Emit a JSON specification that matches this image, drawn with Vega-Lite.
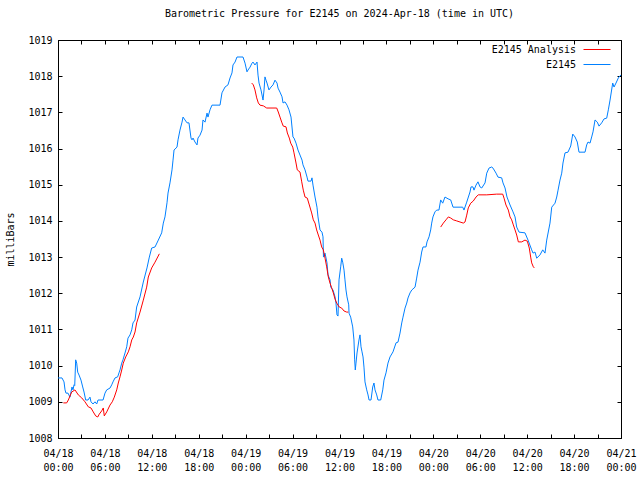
{
  "$schema": "https://vega.github.io/schema/vega-lite/v6.json",
  "width": 563,
  "height": 398,
  "autosize": {"type": "none"},
  "padding": {"left": 58, "top": 40, "right": 19, "bottom": 42},
  "background": "white",
  "config": {
    "font": "DejaVu Sans Mono",
    "view": {"stroke": "black", "strokeWidth": 1},
    "axis": {"domainColor": "black", "tickColor": "black", "labelColor": "black", "titleColor": "black", "labelFont": "DejaVu Sans Mono", "titleFont": "DejaVu Sans Mono", "labelFontSize": 10, "titleFontSize": 10, "titleFontWeight": "normal", "grid": false}
  },
  "title": {"text": "Barometric Pressure for E2145 on 2024-Apr-18 (time in UTC)", "font": "DejaVu Sans Mono", "fontSize": 10, "fontWeight": "normal", "color": "black", "anchor": "middle", "offset": 16},
  "data": {"values": [
    {"series":"E2145","seg":"b","hour":0,"mb":1009.66},{"series":"E2145","seg":"b","hour":0.51,"mb":1009.66},{"series":"E2145","seg":"b","hour":0.77,"mb":1009.55},{"series":"E2145","seg":"b","hour":0.9,"mb":1009.33},{"series":"E2145","seg":"b","hour":1.02,"mb":1009.24},{"series":"E2145","seg":"b","hour":1.28,"mb":1009.24},{"series":"E2145","seg":"b","hour":1.53,"mb":1009.13},{"series":"E2145","seg":"b","hour":1.79,"mb":1009.41},{"series":"E2145","seg":"b","hour":1.92,"mb":1009.33},{"series":"E2145","seg":"b","hour":2.05,"mb":1009.47},{"series":"E2145","seg":"b","hour":2.14,"mb":1009.45},{"series":"E2145","seg":"b","hour":2.26,"mb":1010.16},{"series":"E2145","seg":"b","hour":2.39,"mb":1010.07},{"series":"E2145","seg":"b","hour":2.52,"mb":1009.82},{"series":"E2145","seg":"b","hour":2.69,"mb":1009.74},{"series":"E2145","seg":"b","hour":2.94,"mb":1009.6},{"series":"E2145","seg":"b","hour":3.16,"mb":1009.41},{"series":"E2145","seg":"b","hour":3.33,"mb":1009.27},{"series":"E2145","seg":"b","hour":3.54,"mb":1009.05},{"series":"E2145","seg":"b","hour":3.84,"mb":1009.05},{"series":"E2145","seg":"b","hour":4.09,"mb":1009.13},{"series":"E2145","seg":"b","hour":4.22,"mb":1009.0},{"series":"E2145","seg":"b","hour":4.48,"mb":1008.94},{"series":"E2145","seg":"b","hour":4.73,"mb":1009.0},{"series":"E2145","seg":"b","hour":4.95,"mb":1008.94},{"series":"E2145","seg":"b","hour":5.12,"mb":1009.05},{"series":"E2145","seg":"b","hour":5.76,"mb":1009.05},{"series":"E2145","seg":"b","hour":6.01,"mb":1009.24},{"series":"E2145","seg":"b","hour":6.23,"mb":1009.33},{"series":"E2145","seg":"b","hour":6.65,"mb":1009.38},{"series":"E2145","seg":"b","hour":6.87,"mb":1009.47},{"series":"E2145","seg":"b","hour":7.03,"mb":1009.55},{"series":"E2145","seg":"b","hour":7.29,"mb":1009.66},{"series":"E2145","seg":"b","hour":7.63,"mb":1009.69},{"series":"E2145","seg":"b","hour":7.8,"mb":1009.8},{"series":"E2145","seg":"b","hour":7.93,"mb":1009.88},{"series":"E2145","seg":"b","hour":8.15,"mb":1010.07},{"series":"E2145","seg":"b","hour":8.31,"mb":1010.16},{"series":"E2145","seg":"b","hour":8.57,"mb":1010.35},{"series":"E2145","seg":"b","hour":8.79,"mb":1010.52},{"series":"E2145","seg":"b","hour":8.95,"mb":1010.76},{"series":"E2145","seg":"b","hour":9.21,"mb":1010.85},{"series":"E2145","seg":"b","hour":9.43,"mb":1010.99},{"series":"E2145","seg":"b","hour":9.59,"mb":1011.18},{"series":"E2145","seg":"b","hour":9.85,"mb":1011.26},{"series":"E2145","seg":"b","hour":10.06,"mb":1011.62},{"series":"E2145","seg":"b","hour":10.49,"mb":1011.9},{"series":"E2145","seg":"b","hour":10.91,"mb":1012.31},{"series":"E2145","seg":"b","hour":11.38,"mb":1012.7},{"series":"E2145","seg":"b","hour":11.68,"mb":1013.0},{"series":"E2145","seg":"b","hour":11.98,"mb":1013.25},{"series":"E2145","seg":"b","hour":12.41,"mb":1013.28},{"series":"E2145","seg":"b","hour":12.83,"mb":1013.47},{"series":"E2145","seg":"b","hour":13.26,"mb":1013.67},{"series":"E2145","seg":"b","hour":13.47,"mb":1013.94},{"series":"E2145","seg":"b","hour":13.68,"mb":1014.11},{"series":"E2145","seg":"b","hour":13.94,"mb":1014.5},{"series":"E2145","seg":"b","hour":14.07,"mb":1014.77},{"series":"E2145","seg":"b","hour":14.32,"mb":1015.05},{"series":"E2145","seg":"b","hour":14.58,"mb":1015.41},{"series":"E2145","seg":"b","hour":14.71,"mb":1015.68},{"series":"E2145","seg":"b","hour":14.84,"mb":1015.96},{"series":"E2145","seg":"b","hour":15.22,"mb":1016.04},{"series":"E2145","seg":"b","hour":15.35,"mb":1016.24},{"series":"E2145","seg":"b","hour":15.6,"mb":1016.51},{"series":"E2145","seg":"b","hour":15.86,"mb":1016.73},{"series":"E2145","seg":"b","hour":15.99,"mb":1016.87},{"series":"E2145","seg":"b","hour":16.24,"mb":1016.79},{"series":"E2145","seg":"b","hour":16.5,"mb":1016.71},{"series":"E2145","seg":"b","hour":16.75,"mb":1016.71},{"series":"E2145","seg":"b","hour":17.01,"mb":1016.29},{"series":"E2145","seg":"b","hour":17.14,"mb":1016.24},{"series":"E2145","seg":"b","hour":17.27,"mb":1016.29},{"series":"E2145","seg":"b","hour":17.52,"mb":1016.18},{"series":"E2145","seg":"b","hour":17.78,"mb":1016.1},{"series":"E2145","seg":"b","hour":17.9,"mb":1016.29},{"series":"E2145","seg":"b","hour":18.16,"mb":1016.37},{"series":"E2145","seg":"b","hour":18.42,"mb":1016.51},{"series":"E2145","seg":"b","hour":18.54,"mb":1016.79},{"series":"E2145","seg":"b","hour":18.8,"mb":1016.73},{"series":"E2145","seg":"b","hour":19.06,"mb":1016.98},{"series":"E2145","seg":"b","hour":19.18,"mb":1016.87},{"series":"E2145","seg":"b","hour":19.44,"mb":1017.07},{"series":"E2145","seg":"b","hour":19.69,"mb":1017.2},{"series":"E2145","seg":"b","hour":20.72,"mb":1017.2},{"series":"E2145","seg":"b","hour":20.97,"mb":1017.54},{"series":"E2145","seg":"b","hour":21.36,"mb":1017.7},{"series":"E2145","seg":"b","hour":21.74,"mb":1017.76},{"series":"E2145","seg":"b","hour":22.0,"mb":1017.95},{"series":"E2145","seg":"b","hour":22.25,"mb":1018.09},{"series":"E2145","seg":"b","hour":22.38,"mb":1018.31},{"series":"E2145","seg":"b","hour":22.64,"mb":1018.39},{"series":"E2145","seg":"b","hour":22.89,"mb":1018.53},{"series":"E2145","seg":"b","hour":23.66,"mb":1018.53},{"series":"E2145","seg":"b","hour":23.92,"mb":1018.36},{"series":"E2145","seg":"b","hour":24.17,"mb":1018.12},{"series":"E2145","seg":"b","hour":24.3,"mb":1018.17},{"series":"E2145","seg":"b","hour":24.56,"mb":1018.25},{"series":"E2145","seg":"b","hour":24.81,"mb":1018.36},{"series":"E2145","seg":"b","hour":24.94,"mb":1018.39},{"series":"E2145","seg":"b","hour":25.19,"mb":1018.31},{"series":"E2145","seg":"b","hour":25.45,"mb":1018.39},{"series":"E2145","seg":"b","hour":25.58,"mb":1018.03},{"series":"E2145","seg":"b","hour":25.71,"mb":1017.81},{"series":"E2145","seg":"b","hour":25.96,"mb":1017.62},{"series":"E2145","seg":"b","hour":26.09,"mb":1017.48},{"series":"E2145","seg":"b","hour":26.22,"mb":1017.34},{"series":"E2145","seg":"b","hour":26.35,"mb":1017.62},{"series":"E2145","seg":"b","hour":26.47,"mb":1017.98},{"series":"E2145","seg":"b","hour":26.6,"mb":1017.89},{"series":"E2145","seg":"b","hour":26.73,"mb":1017.81},{"series":"E2145","seg":"b","hour":26.98,"mb":1017.62},{"series":"E2145","seg":"b","hour":27.24,"mb":1017.7},{"series":"E2145","seg":"b","hour":27.5,"mb":1017.76},{"series":"E2145","seg":"b","hour":27.75,"mb":1017.89},{"series":"E2145","seg":"b","hour":28.01,"mb":1017.81},{"series":"E2145","seg":"b","hour":28.14,"mb":1017.67},{"series":"E2145","seg":"b","hour":28.39,"mb":1017.56},{"series":"E2145","seg":"b","hour":28.65,"mb":1017.43},{"series":"E2145","seg":"b","hour":28.78,"mb":1017.26},{"series":"E2145","seg":"b","hour":29.03,"mb":1017.29},{"series":"E2145","seg":"b","hour":29.29,"mb":1017.2},{"series":"E2145","seg":"b","hour":29.54,"mb":1017.07},{"series":"E2145","seg":"b","hour":29.8,"mb":1016.87},{"series":"E2145","seg":"b","hour":30.05,"mb":1016.32},{"series":"E2145","seg":"b","hour":30.18,"mb":1016.29},{"series":"E2145","seg":"b","hour":30.44,"mb":1016.15},{"series":"E2145","seg":"b","hour":30.69,"mb":1015.96},{"series":"E2145","seg":"b","hour":30.95,"mb":1015.82},{"series":"E2145","seg":"b","hour":31.21,"mb":1015.68},{"series":"E2145","seg":"b","hour":31.33,"mb":1015.55},{"series":"E2145","seg":"b","hour":31.59,"mb":1015.41},{"series":"E2145","seg":"b","hour":31.85,"mb":1015.21},{"series":"E2145","seg":"b","hour":31.97,"mb":1015.1},{"series":"E2145","seg":"b","hour":32.36,"mb":1015.1},{"series":"E2145","seg":"b","hour":32.48,"mb":1015.19},{"series":"E2145","seg":"b","hour":32.61,"mb":1014.99},{"series":"E2145","seg":"b","hour":32.87,"mb":1014.66},{"series":"E2145","seg":"b","hour":33.12,"mb":1014.38},{"series":"E2145","seg":"b","hour":33.25,"mb":1014.11},{"series":"E2145","seg":"b","hour":33.51,"mb":1013.75},{"series":"E2145","seg":"b","hour":33.76,"mb":1013.69},{"series":"E2145","seg":"b","hour":33.89,"mb":1013.56},{"series":"E2145","seg":"b","hour":33.95,"mb":1013.0},{"series":"E2145","seg":"b","hour":34.15,"mb":1013.11},{"series":"E2145","seg":"b","hour":34.4,"mb":1012.84},{"series":"E2145","seg":"b","hour":34.53,"mb":1012.51},{"series":"E2145","seg":"b","hour":34.79,"mb":1012.37},{"series":"E2145","seg":"b","hour":34.88,"mb":1012.17},{"series":"E2145","seg":"b","hour":35.17,"mb":1012.09},{"series":"E2145","seg":"b","hour":35.43,"mb":1011.9},{"series":"E2145","seg":"b","hour":35.55,"mb":1011.73},{"series":"E2145","seg":"b","hour":35.68,"mb":1011.4},{"series":"E2145","seg":"b","hour":35.81,"mb":1011.37},{"series":"E2145","seg":"b","hour":35.94,"mb":1012.37},{"series":"E2145","seg":"b","hour":36.15,"mb":1012.73},{"series":"E2145","seg":"b","hour":36.28,"mb":1012.97},{"series":"E2145","seg":"b","hour":36.41,"mb":1012.86},{"series":"E2145","seg":"b","hour":36.58,"mb":1012.64},{"series":"E2145","seg":"b","hour":36.7,"mb":1012.37},{"series":"E2145","seg":"b","hour":36.83,"mb":1012.09},{"series":"E2145","seg":"b","hour":36.96,"mb":1011.9},{"series":"E2145","seg":"b","hour":37.18,"mb":1011.68},{"series":"E2145","seg":"b","hour":37.22,"mb":1011.45},{"series":"E2145","seg":"b","hour":37.43,"mb":1011.34},{"series":"E2145","seg":"b","hour":37.69,"mb":1011.07},{"series":"E2145","seg":"b","hour":37.85,"mb":1010.71},{"series":"E2145","seg":"b","hour":37.94,"mb":1010.16},{"series":"E2145","seg":"b","hour":38.02,"mb":1009.88},{"series":"E2145","seg":"b","hour":38.11,"mb":1010.07},{"series":"E2145","seg":"b","hour":38.24,"mb":1010.35},{"series":"E2145","seg":"b","hour":38.49,"mb":1010.71},{"series":"E2145","seg":"b","hour":38.62,"mb":1010.85},{"series":"E2145","seg":"b","hour":38.75,"mb":1010.52},{"series":"E2145","seg":"b","hour":38.88,"mb":1010.38},{"series":"E2145","seg":"b","hour":39.01,"mb":1010.24},{"series":"E2145","seg":"b","hour":39.13,"mb":1009.96},{"series":"E2145","seg":"b","hour":39.26,"mb":1009.55},{"series":"E2145","seg":"b","hour":39.48,"mb":1009.33},{"series":"E2145","seg":"b","hour":39.65,"mb":1009.19},{"series":"E2145","seg":"b","hour":39.78,"mb":1009.05},{"series":"E2145","seg":"b","hour":40.03,"mb":1009.05},{"series":"E2145","seg":"b","hour":40.25,"mb":1009.41},{"series":"E2145","seg":"b","hour":40.41,"mb":1009.52},{"series":"E2145","seg":"b","hour":40.54,"mb":1009.33},{"series":"E2145","seg":"b","hour":40.76,"mb":1009.19},{"series":"E2145","seg":"b","hour":40.92,"mb":1009.05},{"series":"E2145","seg":"b","hour":41.27,"mb":1009.05},{"series":"E2145","seg":"b","hour":41.53,"mb":1009.33},{"series":"E2145","seg":"b","hour":41.69,"mb":1009.6},{"series":"E2145","seg":"b","hour":41.95,"mb":1009.8},{"series":"E2145","seg":"b","hour":42.2,"mb":1010.07},{"series":"E2145","seg":"b","hour":42.46,"mb":1010.24},{"series":"E2145","seg":"b","hour":42.84,"mb":1010.38},{"series":"E2145","seg":"b","hour":43.23,"mb":1010.63},{"series":"E2145","seg":"b","hour":43.48,"mb":1010.65},{"series":"E2145","seg":"b","hour":43.74,"mb":1010.9},{"series":"E2145","seg":"b","hour":43.96,"mb":1011.18},{"series":"E2145","seg":"b","hour":44.12,"mb":1011.34},{"series":"E2145","seg":"b","hour":44.38,"mb":1011.59},{"series":"E2145","seg":"b","hour":44.6,"mb":1011.73},{"series":"E2145","seg":"b","hour":44.76,"mb":1011.87},{"series":"E2145","seg":"b","hour":45.02,"mb":1012.01},{"series":"E2145","seg":"b","hour":45.24,"mb":1012.09},{"series":"E2145","seg":"b","hour":45.66,"mb":1012.17},{"series":"E2145","seg":"b","hour":45.87,"mb":1012.42},{"series":"E2145","seg":"b","hour":46.04,"mb":1012.64},{"series":"E2145","seg":"b","hour":46.3,"mb":1012.86},{"series":"E2145","seg":"b","hour":46.51,"mb":1013.14},{"series":"E2145","seg":"b","hour":46.68,"mb":1013.28},{"series":"E2145","seg":"b","hour":47.06,"mb":1013.28},{"series":"E2145","seg":"b","hour":47.19,"mb":1013.42},{"series":"E2145","seg":"b","hour":47.45,"mb":1013.56},{"series":"E2145","seg":"b","hour":47.66,"mb":1013.75},{"series":"E2145","seg":"b","hour":47.79,"mb":1013.94},{"series":"E2145","seg":"b","hour":47.95,"mb":1014.11},{"series":"E2145","seg":"b","hour":48.21,"mb":1014.25},{"series":"E2145","seg":"b","hour":48.43,"mb":1014.3},{"series":"E2145","seg":"b","hour":48.72,"mb":1014.3},{"series":"E2145","seg":"b","hour":48.94,"mb":1014.58},{"series":"E2145","seg":"b","hour":49.2,"mb":1014.49},{"series":"E2145","seg":"b","hour":49.49,"mb":1014.66},{"series":"E2145","seg":"b","hour":49.88,"mb":1014.61},{"series":"E2145","seg":"b","hour":50.22,"mb":1014.58},{"series":"E2145","seg":"b","hour":50.52,"mb":1014.38},{"series":"E2145","seg":"b","hour":51.76,"mb":1014.38},{"series":"E2145","seg":"b","hour":51.92,"mb":1014.3},{"series":"E2145","seg":"b","hour":52.27,"mb":1014.52},{"series":"E2145","seg":"b","hour":52.69,"mb":1014.8},{"series":"E2145","seg":"b","hour":52.82,"mb":1014.94},{"series":"E2145","seg":"b","hour":53.07,"mb":1014.94},{"series":"E2145","seg":"b","hour":53.2,"mb":1014.85},{"series":"E2145","seg":"b","hour":53.46,"mb":1014.99},{"series":"E2145","seg":"b","hour":53.71,"mb":1015.08},{"series":"E2145","seg":"b","hour":53.97,"mb":1014.94},{"series":"E2145","seg":"b","hour":54.19,"mb":1014.91},{"series":"E2145","seg":"b","hour":54.61,"mb":1015.05},{"series":"E2145","seg":"b","hour":54.83,"mb":1015.32},{"series":"E2145","seg":"b","hour":55.12,"mb":1015.46},{"series":"E2145","seg":"b","hour":55.47,"mb":1015.49},{"series":"E2145","seg":"b","hour":55.63,"mb":1015.46},{"series":"E2145","seg":"b","hour":56.02,"mb":1015.32},{"series":"E2145","seg":"b","hour":56.27,"mb":1015.21},{"series":"E2145","seg":"b","hour":56.74,"mb":1015.19},{"series":"E2145","seg":"b","hour":56.91,"mb":1015.05},{"series":"E2145","seg":"b","hour":57.17,"mb":1014.91},{"series":"E2145","seg":"b","hour":57.42,"mb":1014.66},{"series":"E2145","seg":"b","hour":57.81,"mb":1014.44},{"series":"E2145","seg":"b","hour":58.19,"mb":1014.25},{"series":"E2145","seg":"b","hour":58.45,"mb":1014.11},{"series":"E2145","seg":"b","hour":58.66,"mb":1013.83},{"series":"E2145","seg":"b","hour":58.96,"mb":1013.69},{"series":"E2145","seg":"b","hour":59.72,"mb":1013.67},{"series":"E2145","seg":"b","hour":60.11,"mb":1013.47},{"series":"E2145","seg":"b","hour":60.58,"mb":1013.2},{"series":"E2145","seg":"b","hour":60.75,"mb":1013.11},{"series":"E2145","seg":"b","hour":61.0,"mb":1013.14},{"series":"E2145","seg":"b","hour":61.22,"mb":1012.97},{"series":"E2145","seg":"b","hour":61.64,"mb":1013.06},{"series":"E2145","seg":"b","hour":61.99,"mb":1013.2},{"series":"E2145","seg":"b","hour":62.28,"mb":1013.11},{"series":"E2145","seg":"b","hour":62.5,"mb":1013.47},{"series":"E2145","seg":"b","hour":62.92,"mb":1013.94},{"series":"E2145","seg":"b","hour":63.14,"mb":1014.38},{"series":"E2145","seg":"b","hour":63.56,"mb":1014.49},{"series":"E2145","seg":"b","hour":63.78,"mb":1014.66},{"series":"E2145","seg":"b","hour":63.95,"mb":1014.85},{"series":"E2145","seg":"b","hour":64.2,"mb":1015.13},{"series":"E2145","seg":"b","hour":64.42,"mb":1015.32},{"series":"E2145","seg":"b","hour":64.58,"mb":1015.6},{"series":"E2145","seg":"b","hour":64.84,"mb":1015.88},{"series":"E2145","seg":"b","hour":65.22,"mb":1015.9},{"series":"E2145","seg":"b","hour":65.57,"mb":1016.07},{"series":"E2145","seg":"b","hour":65.83,"mb":1016.4},{"series":"E2145","seg":"b","hour":66.12,"mb":1016.32},{"series":"E2145","seg":"b","hour":66.41,"mb":1016.18},{"series":"E2145","seg":"b","hour":66.63,"mb":1015.9},{"series":"E2145","seg":"b","hour":67.4,"mb":1015.9},{"series":"E2145","seg":"b","hour":67.61,"mb":1016.1},{"series":"E2145","seg":"b","hour":67.78,"mb":1016.18},{"series":"E2145","seg":"b","hour":68.04,"mb":1016.15},{"series":"E2145","seg":"b","hour":68.25,"mb":1016.32},{"series":"E2145","seg":"b","hour":68.42,"mb":1016.46},{"series":"E2145","seg":"b","hour":68.68,"mb":1016.79},{"series":"E2145","seg":"b","hour":68.97,"mb":1016.73},{"series":"E2145","seg":"b","hour":69.19,"mb":1016.62},{"series":"E2145","seg":"b","hour":69.53,"mb":1016.71},{"series":"E2145","seg":"b","hour":69.83,"mb":1016.82},{"series":"E2145","seg":"b","hour":70.17,"mb":1016.84},{"series":"E2145","seg":"b","hour":70.38,"mb":1017.07},{"series":"E2145","seg":"b","hour":70.6,"mb":1017.34},{"series":"E2145","seg":"b","hour":70.94,"mb":1017.81},{"series":"E2145","seg":"b","hour":71.11,"mb":1017.7},{"series":"E2145","seg":"b","hour":71.36,"mb":1017.81},{"series":"E2145","seg":"b","hour":71.66,"mb":1017.95},{"series":"E2145","seg":"b","hour":71.87,"mb":1018.01},{"series":"E2145","seg":"b","hour":72.0,"mb":1018.03},
    {"series":"E2145 Analysis","seg":"a1","hour":0.68,"mb":1008.97},{"series":"E2145 Analysis","seg":"a1","hour":1.11,"mb":1008.97},{"series":"E2145 Analysis","seg":"a1","hour":1.32,"mb":1009.05},{"series":"E2145 Analysis","seg":"a1","hour":1.75,"mb":1009.27},{"series":"E2145 Analysis","seg":"a1","hour":2.17,"mb":1009.33},{"series":"E2145 Analysis","seg":"a1","hour":2.6,"mb":1009.19},{"series":"E2145 Analysis","seg":"a1","hour":3.03,"mb":1009.11},{"series":"E2145 Analysis","seg":"a1","hour":3.45,"mb":1009.0},{"series":"E2145 Analysis","seg":"a1","hour":3.88,"mb":1008.86},{"series":"E2145 Analysis","seg":"a1","hour":4.22,"mb":1008.83},{"series":"E2145 Analysis","seg":"a1","hour":4.51,"mb":1008.72},{"series":"E2145 Analysis","seg":"a1","hour":4.82,"mb":1008.61},{"series":"E2145 Analysis","seg":"a1","hour":5.08,"mb":1008.58},{"series":"E2145 Analysis","seg":"a1","hour":5.28,"mb":1008.66},{"series":"E2145 Analysis","seg":"a1","hour":5.59,"mb":1008.75},{"series":"E2145 Analysis","seg":"a1","hour":5.79,"mb":1008.83},{"series":"E2145 Analysis","seg":"a1","hour":5.92,"mb":1008.61},{"series":"E2145 Analysis","seg":"a1","hour":6.23,"mb":1008.72},{"series":"E2145 Analysis","seg":"a1","hour":6.65,"mb":1008.91},{"series":"E2145 Analysis","seg":"a1","hour":6.94,"mb":1009.0},{"series":"E2145 Analysis","seg":"a1","hour":7.2,"mb":1009.13},{"series":"E2145 Analysis","seg":"a1","hour":7.51,"mb":1009.33},{"series":"E2145 Analysis","seg":"a1","hour":7.71,"mb":1009.52},{"series":"E2145 Analysis","seg":"a1","hour":7.93,"mb":1009.69},{"series":"E2145 Analysis","seg":"a1","hour":8.15,"mb":1009.88},{"series":"E2145 Analysis","seg":"a1","hour":8.35,"mb":1010.07},{"series":"E2145 Analysis","seg":"a1","hour":8.66,"mb":1010.24},{"series":"E2145 Analysis","seg":"a1","hour":8.99,"mb":1010.38},{"series":"E2145 Analysis","seg":"a1","hour":9.21,"mb":1010.52},{"series":"E2145 Analysis","seg":"a1","hour":9.43,"mb":1010.71},{"series":"E2145 Analysis","seg":"a1","hour":9.63,"mb":1010.79},{"series":"E2145 Analysis","seg":"a1","hour":9.85,"mb":1010.93},{"series":"E2145 Analysis","seg":"a1","hour":10.06,"mb":1011.18},{"series":"E2145 Analysis","seg":"a1","hour":10.49,"mb":1011.48},{"series":"E2145 Analysis","seg":"a1","hour":10.91,"mb":1011.81},{"series":"E2145 Analysis","seg":"a1","hour":11.34,"mb":1012.17},{"series":"E2145 Analysis","seg":"a1","hour":11.55,"mb":1012.45},{"series":"E2145 Analysis","seg":"a1","hour":11.98,"mb":1012.7},{"series":"E2145 Analysis","seg":"a1","hour":12.41,"mb":1012.86},{"series":"E2145 Analysis","seg":"a1","hour":12.96,"mb":1013.09},
    {"series":"E2145 Analysis","seg":"a2","hour":24.77,"mb":1017.81},{"series":"E2145 Analysis","seg":"a2","hour":24.98,"mb":1017.76},{"series":"E2145 Analysis","seg":"a2","hour":25.19,"mb":1017.62},{"series":"E2145 Analysis","seg":"a2","hour":25.41,"mb":1017.4},{"series":"E2145 Analysis","seg":"a2","hour":25.62,"mb":1017.26},{"series":"E2145 Analysis","seg":"a2","hour":25.83,"mb":1017.2},{"series":"E2145 Analysis","seg":"a2","hour":26.26,"mb":1017.18},{"series":"E2145 Analysis","seg":"a2","hour":26.69,"mb":1017.12},{"series":"E2145 Analysis","seg":"a2","hour":27.97,"mb":1017.12},{"series":"E2145 Analysis","seg":"a2","hour":28.17,"mb":1017.01},{"series":"E2145 Analysis","seg":"a2","hour":28.39,"mb":1016.87},{"series":"E2145 Analysis","seg":"a2","hour":28.61,"mb":1016.73},{"series":"E2145 Analysis","seg":"a2","hour":28.81,"mb":1016.62},{"series":"E2145 Analysis","seg":"a2","hour":29.16,"mb":1016.6},{"series":"E2145 Analysis","seg":"a2","hour":29.33,"mb":1016.43},{"series":"E2145 Analysis","seg":"a2","hour":29.58,"mb":1016.29},{"series":"E2145 Analysis","seg":"a2","hour":29.76,"mb":1016.15},{"series":"E2145 Analysis","seg":"a2","hour":30.02,"mb":1016.04},{"series":"E2145 Analysis","seg":"a2","hour":30.18,"mb":1015.88},{"series":"E2145 Analysis","seg":"a2","hour":30.44,"mb":1015.6},{"series":"E2145 Analysis","seg":"a2","hour":30.6,"mb":1015.41},{"series":"E2145 Analysis","seg":"a2","hour":30.95,"mb":1015.35},{"series":"E2145 Analysis","seg":"a2","hour":31.17,"mb":1015.08},{"series":"E2145 Analysis","seg":"a2","hour":31.37,"mb":1014.85},{"series":"E2145 Analysis","seg":"a2","hour":31.59,"mb":1014.66},{"series":"E2145 Analysis","seg":"a2","hour":31.88,"mb":1014.63},{"series":"E2145 Analysis","seg":"a2","hour":32.14,"mb":1014.44},{"series":"E2145 Analysis","seg":"a2","hour":32.44,"mb":1014.22},{"series":"E2145 Analysis","seg":"a2","hour":32.65,"mb":1014.03},{"series":"E2145 Analysis","seg":"a2","hour":32.87,"mb":1013.94},{"series":"E2145 Analysis","seg":"a2","hour":33.08,"mb":1013.75},{"series":"E2145 Analysis","seg":"a2","hour":33.29,"mb":1013.61},{"series":"E2145 Analysis","seg":"a2","hour":33.51,"mb":1013.47},{"series":"E2145 Analysis","seg":"a2","hour":33.72,"mb":1013.28},{"series":"E2145 Analysis","seg":"a2","hour":33.93,"mb":1013.2},{"series":"E2145 Analysis","seg":"a2","hour":34.15,"mb":1012.97},{"series":"E2145 Analysis","seg":"a2","hour":34.36,"mb":1012.73},{"series":"E2145 Analysis","seg":"a2","hour":34.57,"mb":1012.45},{"series":"E2145 Analysis","seg":"a2","hour":34.79,"mb":1012.28},{"series":"E2145 Analysis","seg":"a2","hour":35.0,"mb":1012.15},{"series":"E2145 Analysis","seg":"a2","hour":35.21,"mb":1012.01},{"series":"E2145 Analysis","seg":"a2","hour":35.43,"mb":1011.84},{"series":"E2145 Analysis","seg":"a2","hour":35.64,"mb":1011.73},{"series":"E2145 Analysis","seg":"a2","hour":35.97,"mb":1011.62},{"series":"E2145 Analysis","seg":"a2","hour":36.28,"mb":1011.59},{"series":"E2145 Analysis","seg":"a2","hour":36.58,"mb":1011.51},{"series":"E2145 Analysis","seg":"a2","hour":36.92,"mb":1011.48},{"series":"E2145 Analysis","seg":"a2","hour":37.12,"mb":1011.48},
    {"series":"E2145 Analysis","seg":"a3","hour":48.94,"mb":1013.83},{"series":"E2145 Analysis","seg":"a3","hour":49.28,"mb":1013.94},{"series":"E2145 Analysis","seg":"a3","hour":49.62,"mb":1014.03},{"series":"E2145 Analysis","seg":"a3","hour":49.92,"mb":1014.11},{"series":"E2145 Analysis","seg":"a3","hour":50.22,"mb":1014.08},{"series":"E2145 Analysis","seg":"a3","hour":50.55,"mb":1014.03},{"series":"E2145 Analysis","seg":"a3","hour":50.99,"mb":1014.0},{"series":"E2145 Analysis","seg":"a3","hour":51.41,"mb":1013.97},{"series":"E2145 Analysis","seg":"a3","hour":51.83,"mb":1013.94},{"series":"E2145 Analysis","seg":"a3","hour":52.05,"mb":1013.97},{"series":"E2145 Analysis","seg":"a3","hour":52.27,"mb":1014.16},{"series":"E2145 Analysis","seg":"a3","hour":52.47,"mb":1014.36},{"series":"E2145 Analysis","seg":"a3","hour":52.78,"mb":1014.49},{"series":"E2145 Analysis","seg":"a3","hour":53.11,"mb":1014.55},{"series":"E2145 Analysis","seg":"a3","hour":53.46,"mb":1014.66},{"series":"E2145 Analysis","seg":"a3","hour":53.75,"mb":1014.72},{"series":"E2145 Analysis","seg":"a3","hour":54.83,"mb":1014.72},{"series":"E2145 Analysis","seg":"a3","hour":56.1,"mb":1014.74},{"series":"E2145 Analysis","seg":"a3","hour":56.87,"mb":1014.74},{"series":"E2145 Analysis","seg":"a3","hour":57.04,"mb":1014.63},{"series":"E2145 Analysis","seg":"a3","hour":57.29,"mb":1014.44},{"series":"E2145 Analysis","seg":"a3","hour":57.59,"mb":1014.3},{"series":"E2145 Analysis","seg":"a3","hour":57.81,"mb":1014.11},{"series":"E2145 Analysis","seg":"a3","hour":58.02,"mb":1014.03},{"series":"E2145 Analysis","seg":"a3","hour":58.23,"mb":1013.89},{"series":"E2145 Analysis","seg":"a3","hour":58.45,"mb":1013.75},{"series":"E2145 Analysis","seg":"a3","hour":58.66,"mb":1013.61},{"series":"E2145 Analysis","seg":"a3","hour":58.87,"mb":1013.42},{"series":"E2145 Analysis","seg":"a3","hour":59.3,"mb":1013.42},{"series":"E2145 Analysis","seg":"a3","hour":59.72,"mb":1013.47},{"series":"E2145 Analysis","seg":"a3","hour":60.02,"mb":1013.44},{"series":"E2145 Analysis","seg":"a3","hour":60.27,"mb":1013.25},{"series":"E2145 Analysis","seg":"a3","hour":60.45,"mb":1013.0},{"series":"E2145 Analysis","seg":"a3","hour":60.58,"mb":1012.84},{"series":"E2145 Analysis","seg":"a3","hour":60.79,"mb":1012.73},{"series":"E2145 Analysis","seg":"a3","hour":60.92,"mb":1012.7}
  ]},
  "layer": [
    {
      "mark": {"type": "line", "strokeWidth": 1},
      "encoding": {
        "x": {"field": "hour", "type": "quantitative", "scale": {"domain": [0, 72], "nice": false, "zero": false},
          "axis": {"orient": "bottom", "title": null, "values": [0,3,6,9,12,15,18,21,24,27,30,33,36,39,42,45,48,51,54,57,60,63,66,69,72], "tickSize": -4, "labelPadding": 14, "labelFlush": false, "labelOverlap": false, "labelLineHeight": 14, "labelBaseline": "top",
            "labelExpr": "datum.value % 6 != 0 ? '' : ['04/' + (18 + floor(datum.value / 24)), (datum.value % 24 < 10 ? '0' : '') + (datum.value % 24) + ':00']"}},
        "y": {"field": "mb", "type": "quantitative", "scale": {"domain": [1008, 1019], "nice": false, "zero": false},
          "axis": {"orient": "left", "title": "milliBars", "format": "d", "values": [1008,1009,1010,1011,1012,1013,1014,1015,1016,1017,1018,1019], "tickSize": -4, "labelPadding": 10, "labelFlush": false, "labelOverlap": false, "titlePadding": 12}},
        "color": {"field": "series", "type": "nominal", "scale": {"domain": ["E2145 Analysis", "E2145"], "range": ["#ff0000", "#0080ff"]},
          "legend": {"title": null, "orient": "none", "legendX": 533.5, "legendY": 4, "padding": 0, "symbolType": "M-2.7,0H2.7", "symbolSize": 100, "symbolStrokeWidth": 1, "symbolOpacity": 1, "labelAlign": "right", "labelOffset": -26.5, "labelFont": "DejaVu Sans Mono", "labelFontSize": 10, "labelColor": "black", "rowPadding": 4}},
        "detail": {"field": "seg"}
      }
    },
    {
      "mark": {"type": "point", "opacity": 0},
      "encoding": {
        "x": {"field": "hour", "type": "quantitative", "axis": {"orient": "top", "title": null, "labels": false, "domain": false, "values": [0,3,6,9,12,15,18,21,24,27,30,33,36,39,42,45,48,51,54,57,60,63,66,69,72], "tickSize": -4}},
        "y": {"field": "mb", "type": "quantitative", "axis": {"orient": "right", "title": null, "labels": false, "domain": false, "values": [1008,1009,1010,1011,1012,1013,1014,1015,1016,1017,1018,1019], "tickSize": -4}}
      }
    }
  ],
  "resolve": {"axis": {"x": "independent", "y": "independent"}}
}
